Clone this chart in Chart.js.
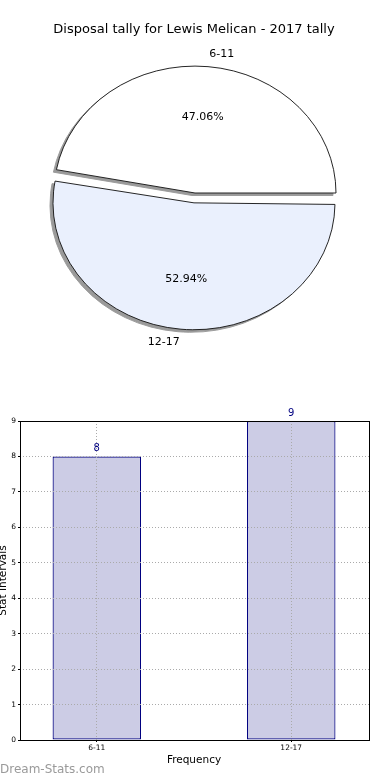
<!DOCTYPE html>
<html>
<head>
<meta charset="utf-8">
<script src="https://cdn.jsdelivr.net/npm/chart.js@4/dist/chart.umd.min.js"></script>
<style>
  html, body { margin: 0; padding: 0; background: #fff; }
  #wrap { position: relative; width: 390px; height: 780px; overflow: hidden; }
  canvas { position: absolute; left: 0; }
  #pie { top: 0; }
  #bar { top: 390px; }
</style>
</head>
<body>
<div id="wrap">
  <canvas id="pie" width="390" height="390"></canvas>
  <canvas id="bar" width="390" height="390"></canvas>
</div>
<script>
// ---- data ----
const chartTitle = 'Disposal tally for Lewis Melican - 2017 tally';
const categories = ['6-11', '12-17'];
const values = [8, 9];
const yTicks = [0, 1, 2, 3, 4, 5, 6, 7, 8, 9];
const xAxisTitle = 'Frequency';
const yAxisTitle = 'Stat Intervals';
const watermark = 'Dream-Stats.com';

const FONT = '"DejaVu Sans", Verdana, sans-serif';
const total = values.reduce((a, b) => a + b, 0);
const Y_SCALE = 0.9;      // matplotlib pie drawn on non-equal axes -> ellipse
const PIE_CX = 195, PIE_CY = 193;

function ellipseTransform(ctx) {
  ctx.translate(PIE_CX, PIE_CY);
  ctx.scale(1, Y_SCALE);
  ctx.translate(-PIE_CX, -PIE_CY);
}

// ---- pie plugin: ellipse transform, shadow, labels ----
const piePlugin = {
  id: 'piePlugin',
  afterDatasetsUpdate(chart) {
    const meta = chart.getDatasetMeta(0);
    meta.data.forEach(arc => {
      const off = arc.options.offset || 0;
      if (off > 0) arc.outerRadius -= off / 4; // keep the radius, only shift
    });
  },
  beforeDraw(chart) {
    const ctx = chart.ctx;
    ctx.save();
    ctx.fillStyle = '#000';
    ctx.font = '13px ' + FONT;
    ctx.textAlign = 'center';
    ctx.textBaseline = 'middle';
    ctx.fillText(chartTitle, 194, 30);
    ctx.restore();
  },
  beforeDatasetsDraw(chart) {
    const ctx = chart.ctx;
    const meta = chart.getDatasetMeta(0);
    // shadow pass: draw arcs far off-canvas, only their shadows land on the canvas
    ctx.save();
    ctx.translate(-3000, 0);
    ellipseTransform(ctx);
    ctx.shadowColor = '#9a9a9a';
    ctx.shadowOffsetX = 3000 - 3;
    ctx.shadowOffsetY = 2.5;
    ctx.shadowBlur = 0;
    meta.data.forEach(arc => arc.draw(ctx, chart.chartArea));
    ctx.restore();
    // main pass transform
    ctx.save();
    ellipseTransform(ctx);
  },
  afterDatasetsDraw(chart) {
    const ctx = chart.ctx;
    ctx.restore();
    const meta = chart.getDatasetMeta(0);
    ctx.save();
    ctx.fillStyle = '#000';
    ctx.font = '11px ' + FONT;
    ctx.textBaseline = 'middle';
    meta.data.forEach((arc, i) => {
      const off = (arc.options.offset || 0) / 4;
      const mid = (arc.startAngle + arc.endAngle) / 2;
      const r = arc.outerRadius + off;
      const bx = arc.x + Math.cos(mid) * off;
      const by = arc.y + Math.sin(mid) * off;
      const pt = (rho) => [bx + rho * Math.cos(mid), PIE_CY + Y_SCALE * (by - PIE_CY + rho * Math.sin(mid))];
      const [lx, ly] = pt(1.1 * r);
      ctx.textAlign = Math.cos(mid) > 0 ? 'left' : 'right';
      ctx.fillText(categories[i], lx, ly);
      const [px, py] = pt(0.6 * r);
      ctx.textAlign = 'center';
      ctx.fillText((values[i] / total * 100).toFixed(2) + '%', px, py);
    });
    ctx.restore();
  }
};

new Chart(document.getElementById('pie'), {
  type: 'pie',
  data: {
    labels: categories,
    datasets: [{
      data: values,
      backgroundColor: ['#ffffff', '#eaf0fd'],
      borderColor: '#1a1a1a',
      borderWidth: 1,
      offset: [0, 44]
    }]
  },
  options: {
    responsive: false,
    animation: false,
    radius: 141,
    rotation: 90 - 360 * values[0] / total,
    layout: { padding: { bottom: 4 } },
    plugins: { legend: { display: false }, tooltip: { enabled: false }, title: { display: false } }
  },
  plugins: [piePlugin]
});

// ---- bar chart ----
const barPlugin = {
  id: 'barPlugin',
  afterDraw(chart) {
    const ctx = chart.ctx;
    const a = chart.chartArea;
    ctx.save();
    // value labels
    const meta = chart.getDatasetMeta(0);
    ctx.fillStyle = '#000080';
    ctx.font = '10px ' + FONT;
    ctx.textAlign = 'center';
    ctx.textBaseline = 'bottom';
    meta.data.forEach((bar, i) => {
      ctx.fillText(String(values[i]), bar.x, bar.y - 3);
    });
    // frame
    ctx.strokeStyle = '#000';
    ctx.lineWidth = 1;
    ctx.setLineDash([]);
    ctx.strokeRect(Math.round(a.left) + 0.5, Math.round(a.top) + 0.5, Math.round(a.right - a.left) - 1, Math.round(a.bottom - a.top));
    // axis titles
    ctx.fillStyle = '#000';
    ctx.font = '10.5px ' + FONT;
    ctx.textBaseline = 'middle';
    ctx.fillText(xAxisTitle, 194, 370);
    ctx.save();
    ctx.translate(3, (a.top + a.bottom) / 2);
    ctx.rotate(-Math.PI / 2);
    ctx.fillText(yAxisTitle, 0, 0);
    ctx.restore();
    // watermark
    ctx.fillStyle = '#9a9a9a';
    ctx.font = '12px ' + FONT;
    ctx.textAlign = 'left';
    ctx.fillText(watermark, 0, 380);
    ctx.restore();
  }
};

new Chart(document.getElementById('bar'), {
  type: 'bar',
  data: {
    datasets: [{
      data: categories.map((c, i) => ({ x: i, y: values[i] })),
      backgroundColor: '#ccccE5',
      borderColor: '#000080',
      borderWidth: 1.2,
      borderSkipped: false,
      barPercentage: 0.455,
      categoryPercentage: 1
    }]
  },
  options: {
    responsive: false,
    animation: false,
    layout: { padding: { top: 31, right: 20, left: 0, bottom: 0 } },
    plugins: { legend: { display: false }, tooltip: { enabled: false } },
    scales: {
      x: {
        type: 'linear',
        offset: false,
        min: -0.395,
        max: 1.405,
        afterBuildTicks: (s) => { s.ticks = categories.map((c, i) => ({ value: i })); },
        afterFit: (s) => { s.height = 40; },
        ticks: {
          callback: (v) => categories[v],
          font: { family: FONT, size: 7.5 },
          color: '#000',
          padding: 2,
          maxRotation: 0
        },
        grid: { offset: false, z: 1, color: '#aaaaaa', tickColor: '#000', tickLength: 2, tickBorderDash: [] },
        border: { display: false, dash: [1, 2] }
      },
      y: {
        min: 0,
        max: 9,
        afterBuildTicks: (s) => { s.ticks = yTicks.map(v => ({ value: v })); },
        afterFit: (s) => { s.width = 20; },
        ticks: {
          font: { family: FONT, size: 7.5 },
          color: '#000',
          padding: 2
        },
        grid: { z: 1, color: '#aaaaaa', tickColor: '#000', tickLength: 2, tickBorderDash: [] },
        border: { display: false, dash: [1, 2] }
      }
    }
  },
  plugins: [barPlugin]
});
</script>
</body>
</html>
